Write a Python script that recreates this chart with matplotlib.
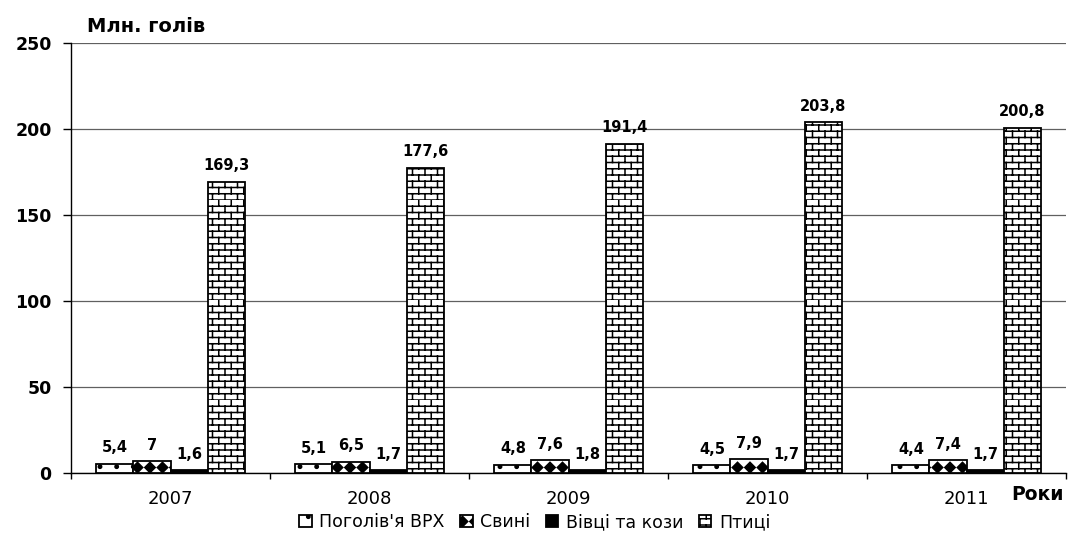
import warnings
warnings.filterwarnings("ignore")
import numpy as np
import matplotlib
matplotlib.use("Agg")
import matplotlib.pyplot as plt
import matplotlib.hatch as mhatch
from matplotlib.path import Path

years = ["2007", "2008", "2009", "2010", "2011"]
series_names = ["Поголів'я ВРХ", "Свині", "Вівці та кози", "Птиці"]
cattle = [5.4, 5.1, 4.8, 4.5, 4.4]
pigs = [7.0, 6.5, 7.6, 7.9, 7.4]
sheep = [1.6, 1.7, 1.8, 1.7, 1.7]
poultry = [169.3, 177.6, 191.4, 203.8, 200.8]
value_labels = [
    ["5,4", "5,1", "4,8", "4,5", "4,4"],
    ["7", "6,5", "7,6", "7,9", "7,4"],
    ["1,6", "1,7", "1,8", "1,7", "1,7"],
    ["169,3", "177,6", "191,4", "203,8", "200,8"],
]
yticks = [0, 50, 100, 150, 200, 250]


# ---- custom hatch patterns (bricks and diamonds) ----
class Bricks(mhatch.HatchPatternBase):
    def __init__(self, hatch, density):
        if 'b' in hatch:
            self.rows = 16
            self.cols = 8
            self.num_lines = self.rows + self.rows * self.cols
            self.num_vertices = self.num_lines * 2
        else:
            self.num_lines = 0
            self.num_vertices = 0

    def set_vertices_and_codes(self, vertices, codes):
        v = []
        for i in range(self.rows):
            y = i / self.rows
            v += [(0.0, y), (1.0, y)]
        for i in range(self.rows):
            y0 = i / self.rows
            y1 = (i + 1) / self.rows
            off = 0.5 / self.cols if i % 2 else 0.0
            for j in range(self.cols):
                x = j / self.cols + off
                v += [(x, y0), (x, y1)]
        vertices[:] = np.array(v)
        codes[0::2] = Path.MOVETO
        codes[1::2] = Path.LINETO


class Diamonds(mhatch.HatchPatternBase):
    """One row of filled diamonds per hatch cell row position."""
    row_pos = (0.325, 0.785)
    cols = 8
    half_w = 0.052
    half_h = 0.052

    def __init__(self, hatch, density):
        if 'd' in hatch:
            self.num_vertices = len(self.row_pos) * (self.cols + 1) * 5
        else:
            self.num_vertices = 0

    def set_vertices_and_codes(self, vertices, codes):
        v = []
        c = []
        for yc in self.row_pos:
            for j in range(self.cols + 1):
                xc = j / self.cols
                v += [(xc, yc + self.half_h), (xc - self.half_w, yc),
                      (xc, yc - self.half_h), (xc + self.half_w, yc),
                      (xc, yc + self.half_h)]
                c += [Path.MOVETO, Path.LINETO, Path.LINETO, Path.LINETO,
                      Path.CLOSEPOLY]
        vertices[:] = np.array(v)
        codes[:] = np.array(c, dtype=Path.code_type)


mhatch._hatch_types.append(Bricks)
mhatch._hatch_types.append(Diamonds)

plt.rcParams['font.family'] = ['DejaVu Sans']
plt.rcParams['hatch.linewidth'] = 1.1

fig = plt.figure(figsize=(10.68, 5.41), dpi=100)
ax = fig.add_axes([71 / 1068, 1 - 473 / 541, (1066 - 71) / 1068, (473 - 43) / 541])

x = np.arange(len(years))
w = 0.186
data = [cattle, pigs, sheep, poultry]
hatches = ['.', 'd', None, 'b']
faces = ['white', 'white', 'black', 'white']
containers = []
for i, (vals, h, fc) in enumerate(zip(data, hatches, faces)):
    bc = ax.bar(x + (i - 1.5) * w, vals, width=w, facecolor=fc, edgecolor='black',
                linewidth=1.3, hatch=h, label=series_names[i], zorder=3)
    containers.append(bc)
    for rect, lab in zip(bc, value_labels[i]):
        ax.annotate(lab, (rect.get_x() + rect.get_width() / 2, rect.get_height()),
                    xytext=(0, 6), textcoords='offset points', ha='center',
                    va='bottom', fontsize=10.5, fontweight='bold', zorder=4)

ax.set_xlim(-0.5, len(years) - 0.5)
ax.set_ylim(0, 250)
ax.set_yticks(yticks)
ax.set_yticklabels([str(t) for t in yticks], fontsize=12.5, fontweight='bold')
ax.yaxis.grid(True, color='#606060', linewidth=0.9, zorder=0)
ax.tick_params(axis='y', length=6, width=1, pad=8, direction='out')

ax.set_xticks(x)
ax.set_xticklabels(years, fontsize=13)
ax.set_xticks(np.arange(-0.5, len(years)), minor=True)
ax.tick_params(axis='x', which='major', length=0, pad=12)
ax.tick_params(axis='x', which='minor', length=4, width=1, direction='out')

for s in ['top', 'right']:
    ax.spines[s].set_visible(False)
ax.spines['left'].set_linewidth(1.0)
ax.spines['bottom'].set_linewidth(1.0)

fig.text(87 / 1068, 1 - 32 / 541, "Млн. голів", fontsize=14, fontweight='bold',
         ha='left', va='baseline')
fig.text(1064 / 1068, 1 - 500 / 541, "Роки", fontsize=13.5, fontweight='bold',
         ha='right', va='baseline')

leg = fig.legend(handles=containers, labels=series_names, loc='center',
                 bbox_to_anchor=(535 / 1068, 1 - 522 / 541), ncol=4, frameon=False,
                 fontsize=12.5, handlelength=0.7, handleheight=0.7,
                 handletextpad=0.45, columnspacing=0.9, borderpad=0.1)

fig.savefig("out.png", dpi=100)
